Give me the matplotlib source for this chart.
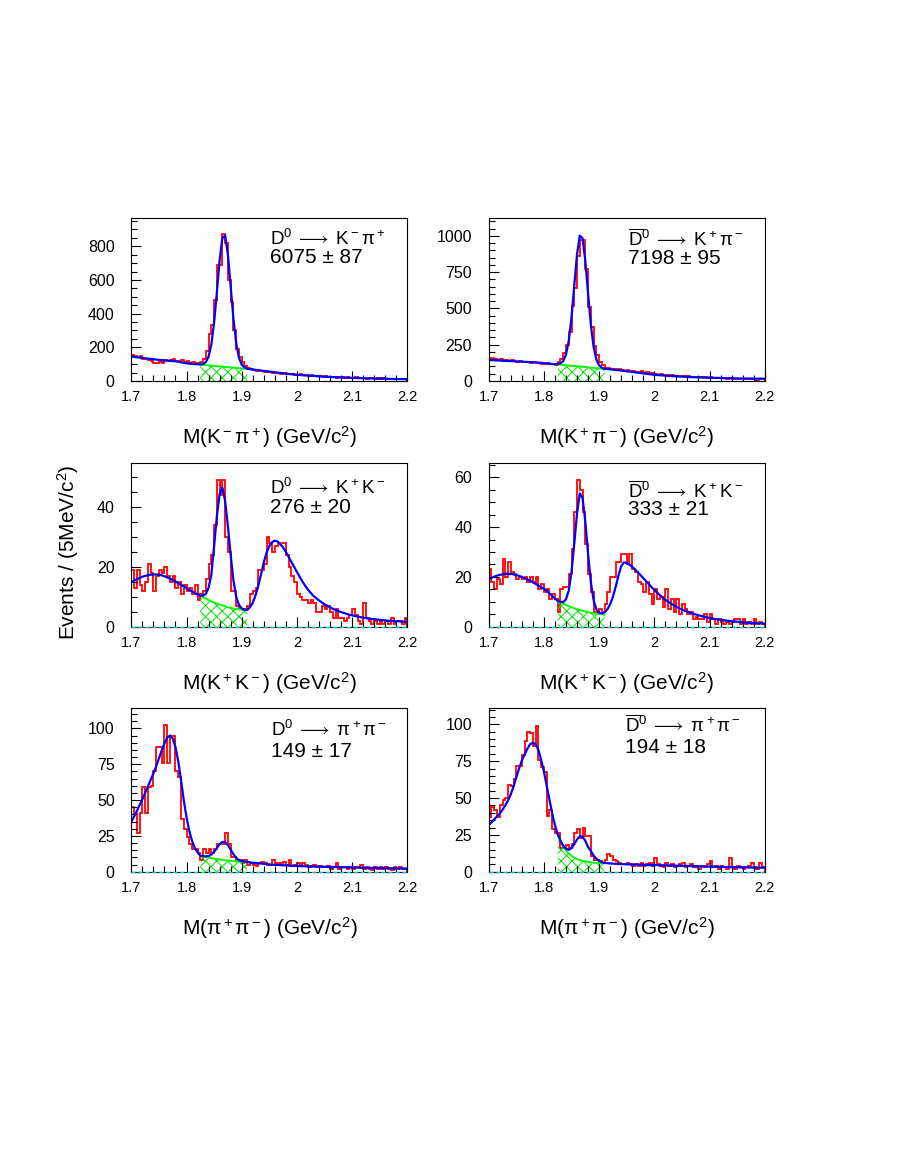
import numpy as np
import matplotlib
matplotlib.use("Agg")
import matplotlib.pyplot as plt
from matplotlib.ticker import MultipleLocator, FuncFormatter

plt.rcParams['font.family'] = ['Liberation Sans', 'DejaVu Sans']
plt.rcParams['mathtext.fontset'] = 'custom'
plt.rcParams['mathtext.rm'] = 'Liberation Sans'
plt.rcParams['mathtext.it'] = 'Liberation Sans'
plt.rcParams['mathtext.bf'] = 'Liberation Sans:bold'
plt.rcParams['mathtext.fallback'] = 'stixsans'
plt.rcParams['hatch.linewidth'] = 0.7

# 100 bins of 5 MeV, 1.70 - 2.20 GeV; fit curves given on the 101 bin edges,
# background under the D peak on the edges 1.825 - 1.910
edges = np.linspace(1.70, 2.20, 101)
bkg_x = edges[25:43]

# D0 -> K- pi+
kpi_d0_counts = [152, 148, 140, 146, 128, 130, 124, 118, 108, 106, 112, 108, 122, 118, 124, 128, 120, 116, 124, 112,
                 118, 106, 110, 104, 108, 112, 128, 180, 280, 333, 481, 690, 690, 870, 818, 600, 470, 300, 190, 144,
                 115, 90, 75, 72, 68, 60, 58, 62, 55, 52, 56, 50, 47, 50, 44, 46, 42, 40, 44, 38,
                 36, 40, 34, 36, 30, 34, 28, 32, 30, 26, 28, 24, 22, 26, 20, 24, 22, 18, 22, 20,
                 18, 22, 16, 18, 20, 14, 16, 18, 14, 16, 12, 16, 14, 12, 14, 12, 10, 14, 12, 12]
kpi_d0_fit = [145, 143, 141, 139, 137, 135, 133, 131, 129, 127, 125, 124, 122, 121, 120, 119, 117, 114, 111, 108,
              105, 103, 101, 100, 100, 98, 101, 112, 145, 217, 347, 527, 719, 850, 863, 749, 561, 369, 225, 138,
              97, 80, 73, 70, 68, 66, 64, 62, 60, 58, 56, 54, 52, 50, 48, 46, 44, 42, 40, 39,
              37, 36, 34, 33, 32, 31, 30, 29, 28, 27, 26, 25, 24, 23, 22.5, 22, 21, 20.5, 20, 19,
              18.5, 18, 17.5, 17, 16.5, 16, 15.5, 15, 14.5, 14, 14, 13.5, 13, 13, 12.5, 12, 12, 11.5, 11, 11, 11]
kpi_d0_bkg = [97, 95.5, 94, 92.5, 91, 89.5, 88, 86.5, 85, 83.5, 82, 80.5, 79, 77.5, 76, 74.5, 73, 71.5]

# D0bar -> K+ pi-
kpi_d0b_counts = [155, 160, 150, 148, 152, 140, 142, 138, 145, 136, 132, 138, 130, 128, 134, 126, 128, 122, 126, 120,
                  118, 124, 115, 118, 112, 130, 150, 190, 245, 340, 520, 640, 860, 975, 975, 770, 510, 370, 240, 180,
                  130, 110, 90, 88, 80, 82, 78, 84, 74, 72, 76, 68, 70, 64, 62, 66, 58, 60, 54, 52,
                  48, 44, 46, 40, 42, 38, 40, 36, 34, 36, 32, 30, 32, 28, 30, 26, 28, 24, 26, 22,
                  24, 20, 22, 18, 20, 18, 16, 18, 16, 14, 16, 14, 12, 14, 12, 14, 12, 10, 12, 14]
kpi_d0b_fit = [145, 144, 143, 142, 141, 140, 139, 138, 137, 136, 135, 134, 133, 132, 131, 130, 129, 128, 127, 125,
               123, 121, 119, 117, 116, 117, 121, 137, 182, 277, 440, 658, 874, 1002, 984, 829, 602, 389, 235, 148,
               108, 91, 84, 82, 80, 78, 76, 74, 72, 70, 67, 65, 62, 60, 57, 55, 52, 50, 47, 45,
               43, 41, 40, 38, 37, 35, 34, 33, 32, 31, 30, 29, 28, 27, 26, 25.5, 25, 24, 23.5, 23,
               22.5, 22, 21.5, 21, 20.5, 20, 19.5, 19, 18.5, 18, 18, 17.5, 17, 17, 16.5, 16.5, 16, 16, 16, 16, 16]
kpi_d0b_bkg = [115, 113, 111, 109, 107, 105.5, 104, 102, 100, 98, 96, 94, 92, 90, 88, 86.5, 85, 83]

# D0 -> K+ K-
kk_d0_counts = [19, 13, 19, 14, 12, 15, 21, 18, 12, 17, 19, 18, 20, 17, 15, 17, 13, 15, 11, 14,
                12, 13, 11, 14, 9, 11, 12, 16, 21, 24, 34, 49, 44, 49, 30, 25, 12, 12, 7, 6,
                6, 6, 7, 11, 12, 13, 19, 19, 21, 30, 28, 25, 27, 28, 28, 28, 24, 20, 17, 15,
                11, 10, 9, 9, 8, 9, 8, 5, 5, 7, 6, 7, 5, 3, 6, 3, 3, 2, 3, 4,
                6, 4, 2, 1, 8, 3, 2, 1, 2, 1, 2, 1, 2, 1, 3, 1, 2, 2, 1, 3]
kk_d0_fit = [14.9, 15.4, 15.9, 16.3, 16.7, 17.0, 17.2, 17.4, 17.5, 17.5, 17.4, 17.2, 16.9, 16.5, 16.1, 15.6, 15.1,
             14.6, 14.0, 13.5, 12.9, 12.3, 11.8, 11.3, 10.8, 10.4, 10.4, 11.0, 13.0, 17.5, 27.0, 37.0, 44.5, 46.5,
             42.0, 33.5, 24.0, 15.5, 10.0, 7.3, 6.1, 5.7, 5.6, 6.5, 8.0, 10.5, 13.8, 17.5, 21.5, 24.8, 27.0, 28.3,
             28.8, 28.5, 27.6, 26.5, 25.0, 23.4, 21.7, 20.0, 18.3, 16.7, 15.1, 13.7, 12.4, 11.3, 10.3, 9.5, 8.8,
             8.1, 7.5, 7.0, 6.5, 6.0, 5.6, 5.2, 4.9, 4.6, 4.3, 4.0, 3.8, 3.6, 3.4, 3.2, 3.0, 2.9, 2.7, 2.6, 2.5,
             2.4, 2.3, 2.2, 2.1, 2.0, 1.9, 1.9, 1.8, 1.8, 1.7, 1.7, 1.6]
kk_d0_bkg = [10.4, 9.9, 9.4, 8.9, 8.5, 8.1, 7.7, 7.4, 7.1, 6.8, 6.5, 6.3, 6.1, 5.9, 5.8, 5.7, 5.6, 5.6]

# D0bar -> K+ K-
kk_d0b_counts = [23, 18, 15, 19, 17, 27, 20, 26, 22, 21, 19, 20, 19, 20, 18, 20, 18, 20, 15, 17,
                 14, 15, 11, 13, 11, 6, 15, 16, 16, 21, 31, 46, 59, 55, 46, 33, 21, 14, 6, 6,
                 7, 6, 9, 14, 20, 20, 26, 26, 29, 29, 25, 29, 23, 22, 18, 17, 14, 18, 13, 9,
                 15, 11, 12, 8, 15, 7, 11, 6, 11, 5, 9, 7, 5, 6, 3, 4, 3, 3, 5, 2,
                 5, 3, 1, 3, 2, 1, 2, 1, 2, 3, 3, 1, 3, 1, 2, 1, 3, 1, 2, 1]
kk_d0b_fit = [19.1, 19.6, 20.1, 20.5, 20.8, 21.0, 21.2, 21.2, 21.2, 21.0, 20.7, 20.4, 20.0, 19.5, 19.0, 18.4, 17.8,
              17.2, 16.5, 15.9, 15.2, 14.4, 13.4, 12.3, 11.3, 10.4, 10.0, 9.9, 11.0, 14.5, 22.0, 33.3, 45.4, 53.5,
              51.7, 42.2, 29.2, 17.9, 10.7, 7.0, 5.6, 5.3, 5.8, 7.0, 9.0, 12.0, 16.0, 20.5, 24.3, 25.8, 25.6, 24.9,
              24.0, 23.0, 21.9, 20.7, 19.5, 18.3, 17.1, 15.9, 14.8, 13.7, 12.7, 11.7, 10.8, 10.0, 9.3, 8.6, 8.0,
              7.4, 6.9, 6.4, 6.0, 5.6, 5.2, 4.9, 4.6, 4.3, 4.0, 3.8, 3.5, 3.3, 3.1, 2.9, 2.8, 2.6, 2.5, 2.3, 2.2,
              2.1, 2.0, 1.9, 1.8, 1.7, 1.6, 1.5, 1.5, 1.4, 1.3, 1.3, 1.2]
kk_d0b_bkg = [10.4, 9.8, 9.2, 8.7, 8.2, 7.8, 7.4, 7.0, 6.7, 6.4, 6.1, 5.8, 5.6, 5.4, 5.2, 5.1, 5.0, 4.9]

# D0 -> pi+ pi-
pipi_d0_counts = [45, 40, 27, 41, 59, 41, 59, 60, 70, 87, 87, 76, 102, 76, 95, 95, 70, 66, 37, 30,
                  24, 19, 16, 16, 13, 8, 16, 13, 16, 13, 16, 19, 19, 19, 27, 19, 10, 10, 8, 8,
                  6, 8, 5, 6, 5, 4, 6, 7, 6, 5, 5, 8, 6, 5, 6, 7, 5, 8, 4, 5,
                  6, 4, 6, 5, 3, 4, 5, 3, 4, 3, 3, 4, 2, 3, 6, 2, 3, 3, 2, 3,
                  2, 3, 3, 5, 2, 3, 2, 1, 3, 2, 3, 2, 3, 2, 1, 3, 2, 3, 2, 2]
pipi_d0_fit = [35.0, 38.5, 42.3, 46.5, 50.5, 55.0, 59.5, 64.0, 68.5, 73.5, 79.0, 84.5, 89.5, 93.5, 95.0, 93.0, 87.0,
               77.0, 64.0, 50.0, 38.0, 28.5, 21.5, 16.5, 13.5, 11.2, 10.9, 10.7, 11.0, 12.0, 13.9, 16.6, 19.3, 20.8,
               20.6, 18.6, 15.4, 12.2, 9.7, 8.1, 7.4, 7.0, 6.8, 6.5, 6.3, 6.1, 5.9, 5.7, 5.5, 5.3, 5.1, 4.9, 4.8,
               4.7, 4.6, 4.5, 4.4, 4.3, 4.2, 4.1, 4.0, 3.9, 3.85, 3.8, 3.75, 3.7, 3.65, 3.6, 3.55, 3.5, 3.45, 3.4,
               3.35, 3.3, 3.25, 3.2, 3.15, 3.1, 3.05, 3.0, 2.95, 2.9, 2.85, 2.8, 2.75, 2.7, 2.7, 2.65, 2.6, 2.55,
               2.5, 2.5, 2.45, 2.4, 2.4, 2.35, 2.3, 2.3, 2.25, 2.2, 2.2]
pipi_d0_bkg = [11.2, 10.7, 10.3, 9.9, 9.5, 9.2, 8.9, 8.6, 8.3, 8.0, 7.8, 7.6, 7.4, 7.2, 7.0, 6.9, 6.8, 6.7]

# D0bar -> pi+ pi-
pipi_d0b_counts = [37, 44, 42, 37, 45, 49, 50, 59, 58, 63, 72, 72, 79, 89, 95, 94, 85, 99, 76, 71,
                   68, 38, 42, 29, 26, 26, 16, 17, 18, 16, 19, 26, 29, 23, 30, 24, 24, 11, 8, 8,
                   7, 6, 8, 12, 11, 8, 7, 6, 5, 5, 6, 5, 4, 5, 4, 6, 4, 5, 6, 4,
                   9, 5, 4, 3, 6, 4, 5, 3, 4, 5, 6, 3, 4, 5, 3, 4, 2, 4, 3, 5,
                   7, 3, 4, 2, 4, 3, 2, 9, 3, 2, 4, 3, 2, 3, 4, 6, 3, 2, 6, 3]
pipi_d0b_fit = [31.7, 33.5, 35.5, 37.5, 39.5, 42.0, 45.0, 48.3, 52.5, 58.0, 64.0, 70.0, 75.5, 79.5, 83.5, 86.5, 87.6,
                86.5, 82.6, 76.0, 68.0, 58.5, 49.0, 39.5, 31.5, 25.5, 21.1, 17.7, 15.6, 14.9, 16.0, 18.7, 21.9, 24.0,
                23.8, 21.0, 16.8, 14.0, 11.0, 8.8, 7.3, 6.4, 6.0, 5.8, 5.6, 5.5, 5.4, 5.3, 5.2, 5.1, 5.0, 4.95, 4.9,
                4.85, 4.8, 4.75, 4.7, 4.65, 4.6, 4.55, 4.5, 4.45, 4.4, 4.35, 4.3, 4.25, 4.2, 4.15, 4.1, 4.05, 4.0,
                3.95, 3.9, 3.85, 3.8, 3.75, 3.7, 3.65, 3.6, 3.55, 3.5, 3.45, 3.4, 3.35, 3.3, 3.25, 3.2, 3.15, 3.1,
                3.05, 3.0, 2.97, 2.94, 2.91, 2.88, 2.85, 2.82, 2.79, 2.76, 2.73, 2.7]
pipi_d0b_bkg = [25.5, 21.0, 17.3, 14.5, 12.3, 10.7, 9.5, 8.6, 7.9, 7.4, 7.0, 6.7, 6.4, 6.2, 6.0, 5.9, 5.8, 5.7]

titles = [r'D$^0\;\longrightarrow\;$K$^-$π$^+$', r'$\overline{\mathrm{D}}^0\;\longrightarrow\;$K$^+$π$^-$',
          r'D$^0\;\longrightarrow\;$K$^+$K$^-$', r'$\overline{\mathrm{D}}^0\;\longrightarrow\;$K$^+$K$^-$',
          r'D$^0\;\longrightarrow\;$π$^+$π$^-$', r'$\overline{\mathrm{D}}^0\;\longrightarrow\;$π$^+$π$^-$']
yields = ['6075 ± 87', '7198 ± 95', '276 ± 20', '333 ± 21', '149 ± 17', '194 ± 18']
xlabels = [r'M(K$^-$π$^+$) (GeV/c$^2$)', r'M(K$^+$π$^-$) (GeV/c$^2$)',
           r'M(K$^+$K$^-$) (GeV/c$^2$)', r'M(K$^+$K$^-$) (GeV/c$^2$)',
           r'M(π$^+$π$^-$) (GeV/c$^2$)', r'M(π$^+$π$^-$) (GeV/c$^2$)']

data = [(kpi_d0_counts, kpi_d0_fit, kpi_d0_bkg), (kpi_d0b_counts, kpi_d0b_fit, kpi_d0b_bkg),
        (kk_d0_counts, kk_d0_fit, kk_d0_bkg), (kk_d0b_counts, kk_d0b_fit, kk_d0b_bkg),
        (pipi_d0_counts, pipi_d0_fit, pipi_d0_bkg), (pipi_d0b_counts, pipi_d0b_fit, pipi_d0b_bkg)]

# layout / axis settings (fig fractions, y range, major, minor step)
rects = [[0.1459, 0.6727, 0.3067, 0.1396], [0.5430, 0.6727, 0.3067, 0.1396],
         [0.1459, 0.4616, 0.3067, 0.1404], [0.5430, 0.4616, 0.3067, 0.1404],
         [0.1459, 0.2511, 0.3067, 0.1404], [0.5430, 0.2511, 0.3067, 0.1404]]
yranges = [(965, 200, 50), (1120, 250, 50), (54.7, 20, 5), (65.6, 20, 5), (114, 25, 5), (110.9, 25, 5)]
text_pos = [(0.503, 0.837, 0.724), (0.506, 0.83, 0.72), (0.503, 0.81, 0.694),
            (0.505, 0.79, 0.684), (0.505, 0.83, 0.704), (0.495, 0.853, 0.728)]

fig = plt.figure(figsize=(9, 11.64), dpi=100)

for i in range(6):
    counts, fit, bkg = data[i]
    ax = fig.add_axes(rects[i])
    ax.stairs(counts, edges, baseline=0, color='#ff0000', lw=1.3)
    ax.fill_between(bkg_x, 0, bkg, facecolor='none', edgecolor='#00e000', hatch='xxx', lw=0)
    ax.plot(bkg_x, bkg, color='#00ff00', lw=1.4)
    ax.plot(edges, fit, color='#0000ff', lw=1.6)
    if i >= 2:
        ax.axhline(0, color='#00c8c8', lw=1.0, ls=(0, (3, 2)), zorder=5, clip_on=False)

    ymax, major, minor = yranges[i]
    ax.set_xlim(1.7, 2.2)
    ax.set_ylim(0, ymax)
    ax.xaxis.set_major_locator(MultipleLocator(0.1))
    ax.xaxis.set_minor_locator(MultipleLocator(0.02))
    ax.xaxis.set_major_formatter(FuncFormatter(lambda v, p: '%g' % round(v, 3)))
    ax.yaxis.set_major_locator(MultipleLocator(major))
    ax.yaxis.set_minor_locator(MultipleLocator(minor))
    ax.tick_params(which='both', direction='in', top=False, right=False, width=0.8)
    ax.tick_params(which='major', length=7.5)
    ax.tick_params(which='minor', length=4)
    ax.tick_params(axis='x', labelsize=10.5, pad=6.5)
    ax.tick_params(axis='y', labelsize=11.5, pad=12)
    for s in ax.spines.values():
        s.set_linewidth(0.8)

    tx, ty1, ty2 = text_pos[i]
    ax.text(tx, ty1, titles[i], transform=ax.transAxes, fontsize=13.5, va='baseline', ha='left')
    ax.text(tx, ty2, yields[i], transform=ax.transAxes, fontsize=15, va='baseline', ha='left')
    ax.text(0.5, -0.345, xlabels[i], transform=ax.transAxes, fontsize=15, va='center', ha='center')

fig.text(68 / 900, 1 - 552 / 1164, r'Events / (5MeV/c$^2$)', rotation=90, fontsize=15,
         va='center', ha='center')

fig.savefig('out.png', dpi=100)
